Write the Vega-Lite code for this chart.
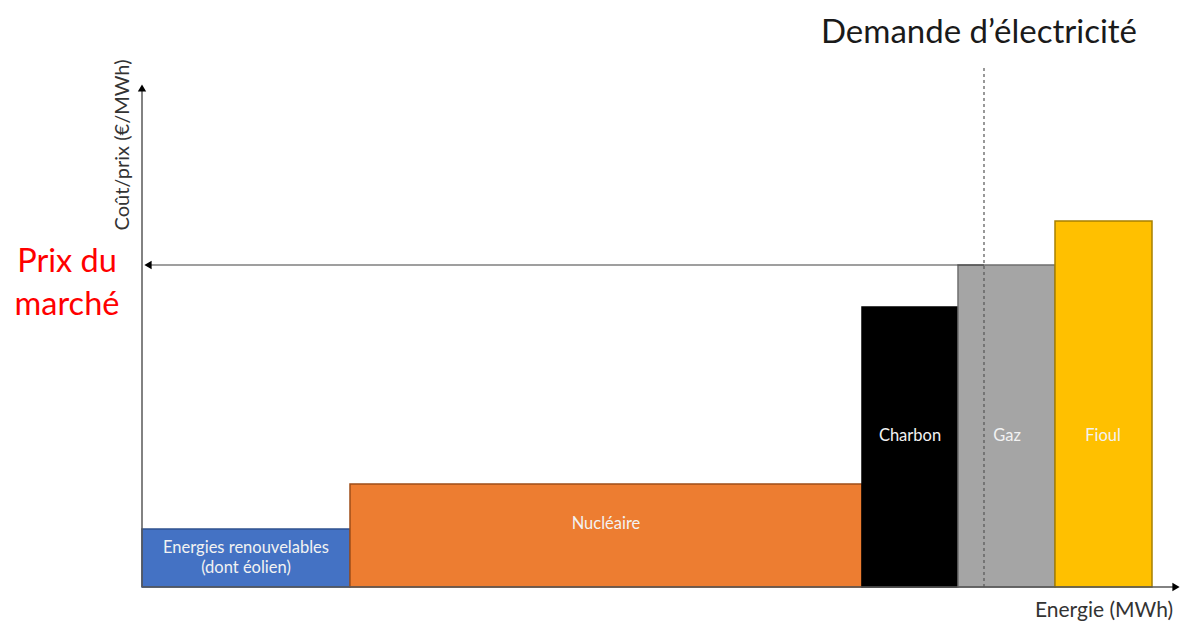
{
  "$schema": "https://vega.github.io/schema/vega-lite/v6.json",
  "width": 1181,
  "height": 621,
  "autosize": {"type": "fit", "contains": "padding"},
  "padding": 0,
  "background": "white",
  "config": {"view": {"stroke": null}},
  "datasets": {
    "bars": [
      {"source": "Energies renouvelables", "x": 0, "x2": 20.8, "y": 0, "y2": 11.6},
      {"source": "Nucléaire", "x": 20.8, "x2": 72, "y": 0, "y2": 20.6},
      {"source": "Charbon", "x": 72, "x2": 81.6, "y": 0, "y2": 56},
      {"source": "Gaz", "x": 81.6, "x2": 91.3, "y": 0, "y2": 64.4},
      {"source": "Fioul", "x": 91.3, "x2": 101, "y": 0, "y2": 73.2}
    ],
    "barLabels": [
      {"label": ["Energies renouvelables", "(dont éolien)"], "x": 10.4, "y": 7.8},
      {"label": "Nucléaire", "x": 46.4, "y": 12.6},
      {"label": "Charbon", "x": 76.8, "y": 30.2},
      {"label": "Gaz", "x": 86.5, "y": 30.2},
      {"label": "Fioul", "x": 96.1, "y": 30.2}
    ],
    "axes": [
      {"x": 0, "x2": 103.2, "y": 0, "y2": 0},
      {"x": 0, "x2": 0, "y": 0, "y2": 99.6}
    ],
    "price": [{"x": 84.2, "x2": 0.6, "y": 64.4, "y2": 64.4}],
    "demand": [{"x": 84.2, "x2": 84.2, "y": 0, "y2": 103.8}],
    "arrowRight": [{"x": 103.4, "y": 0}],
    "arrowUp": [{"x": 0, "y": 99.8}],
    "arrowLeft": [{"x": 0.6, "y": 64.4}],
    "demandTitle": [{"label": "Demande d’électricité", "x": 83.7, "y": 108.8}],
    "priceLabel": [{"label": ["Prix du", "marché"], "x": -7.5, "y": 63}],
    "yTitle": [{"label": "Coût/prix (€/MWh)", "x": -1.9, "y": 88.4}],
    "xTitle": [{"label": "Energie (MWh)", "x": 96.2, "y": -4.7}]
  },
  "encoding": {
    "x": {"field": "x", "type": "quantitative", "scale": {"domain": [-14.2, 103.9], "nice": false, "zero": false}, "axis": null},
    "y": {"field": "y", "type": "quantitative", "scale": {"domain": [-6.8, 117.4], "nice": false, "zero": false}, "axis": null}
  },
  "layer": [
    {
      "data": {"name": "bars"},
      "mark": {"type": "rect", "strokeWidth": 1.5},
      "encoding": {
        "x2": {"field": "x2"},
        "y2": {"field": "y2"},
        "fill": {"field": "source", "type": "nominal", "legend": null,
          "scale": {"domain": ["Energies renouvelables", "Nucléaire", "Charbon", "Gaz", "Fioul"],
                    "range": ["#4472C4", "#ED7D31", "#000000", "#A5A5A5", "#FFC000"]}},
        "stroke": {"field": "source", "type": "nominal", "legend": null,
          "scale": {"domain": ["Energies renouvelables", "Nucléaire", "Charbon", "Gaz", "Fioul"],
                    "range": ["#2F528F", "#9E4D18", "#000000", "#6F6F6F", "#A88000"]}}
      }
    },
    {
      "data": {"name": "demand"},
      "mark": {"type": "rule", "color": "#555555", "strokeWidth": 1.2, "strokeDash": [3, 3]},
      "encoding": {"x2": {"field": "x2"}, "y2": {"field": "y2"}}
    },
    {
      "data": {"name": "barLabels"},
      "mark": {"type": "text", "font": "Lato", "fontSize": 16.5, "color": "#F2F2F2", "align": "center", "baseline": "middle", "lineHeight": 20},
      "encoding": {"text": {"field": "label"}}
    },
    {
      "data": {"name": "axes"},
      "mark": {"type": "rule", "color": "#595959", "strokeWidth": 1.5},
      "encoding": {"x2": {"field": "x2"}, "y2": {"field": "y2"}}
    },
    {
      "data": {"name": "price"},
      "mark": {"type": "rule", "color": "#404040", "strokeWidth": 1.2},
      "encoding": {"x2": {"field": "x2"}, "y2": {"field": "y2"}}
    },
    {
      "data": {"name": "arrowRight"},
      "mark": {"type": "point", "shape": "triangle-right", "filled": true, "color": "#000000", "size": 70, "opacity": 1}
    },
    {
      "data": {"name": "arrowUp"},
      "mark": {"type": "point", "shape": "triangle-up", "filled": true, "color": "#000000", "size": 70, "opacity": 1}
    },
    {
      "data": {"name": "arrowLeft"},
      "mark": {"type": "point", "shape": "triangle-left", "filled": true, "color": "#000000", "size": 70, "opacity": 1}
    },
    {
      "data": {"name": "demandTitle"},
      "mark": {"type": "text", "font": "Lato", "fontSize": 33, "color": "#1a1a1a", "align": "center", "baseline": "alphabetic"},
      "encoding": {"text": {"field": "label"}}
    },
    {
      "data": {"name": "priceLabel"},
      "mark": {"type": "text", "font": "Lato", "fontSize": 32.5, "color": "#FF0000", "align": "center", "baseline": "alphabetic", "lineHeight": 43},
      "encoding": {"text": {"field": "label"}}
    },
    {
      "data": {"name": "yTitle"},
      "mark": {"type": "text", "font": "Lato", "fontSize": 20, "color": "#333333", "align": "center", "baseline": "middle", "angle": 270},
      "encoding": {"text": {"field": "label"}}
    },
    {
      "data": {"name": "xTitle"},
      "mark": {"type": "text", "font": "Lato", "fontSize": 21, "color": "#333333", "align": "center", "baseline": "middle"},
      "encoding": {"text": {"field": "label"}}
    }
  ]
}
